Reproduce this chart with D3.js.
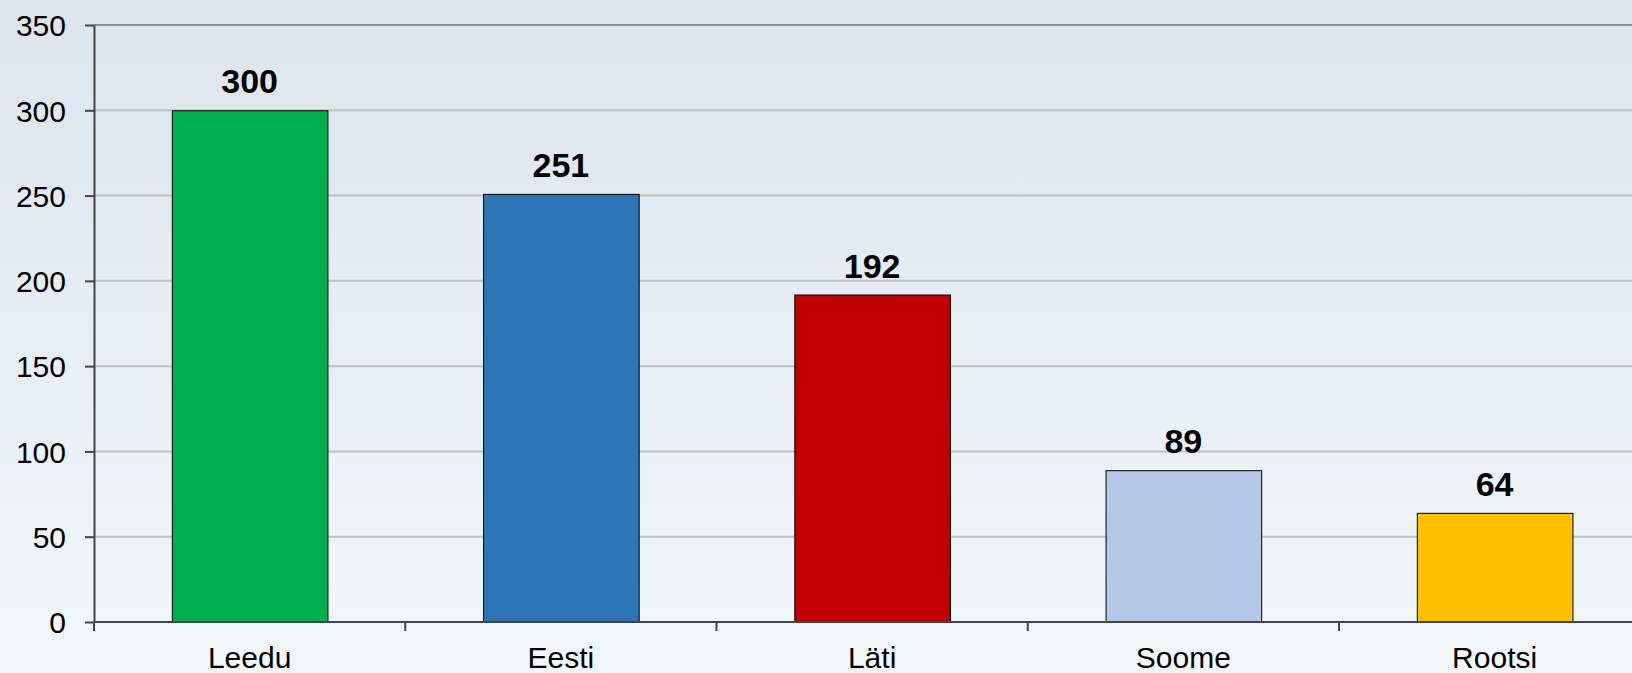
<!DOCTYPE html>
<html><head><meta charset="utf-8">
<script src="https://cdn.jsdelivr.net/npm/d3@7"></script>
<style>html,body{margin:0;padding:0;overflow:hidden;}svg{display:block;}</style>
</head><body>
<svg id="c" width="1632" height="673"></svg>
<script>
const categories = ["Leedu", "Eesti", "Läti", "Soome", "Rootsi"];
const values = [300, 251, 192, 89, 64];
const colors = ["#00b050", "#2e75b6", "#c00000", "#b4c7e7", "#ffc000"];
const yTicks = [0, 50, 100, 150, 200, 250, 300, 350];

const W = 1632, H = 673;
const svg = d3.select("#c");
const defs = svg.append("defs");
const g = defs.append("linearGradient").attr("id", "bg").attr("x1", 0).attr("y1", 0).attr("x2", 0).attr("y2", 1);
g.append("stop").attr("offset", "0%").attr("stop-color", "#dce5ed");
g.append("stop").attr("offset", "100%").attr("stop-color", "#f2f7fa");
svg.append("rect").attr("width", W).attr("height", H).attr("fill", "url(#bg)");

const x0 = 94, bandW = 311.25;
const x = d3.scaleBand().domain(categories).range([x0, x0 + bandW * categories.length]).paddingInner(0.5).paddingOuter(0.25);
const y = d3.scaleLinear().domain([0, 350]).range([622, 25]);
const font = "Arial, 'Liberation Sans', sans-serif";

// gridlines
svg.append("g").selectAll("line").data(yTicks.filter(d => d > 0)).join("line")
  .attr("x1", x0).attr("x2", W).attr("y1", d => y(d)).attr("y2", d => y(d))
  .attr("stroke", d => d === 350 ? "#8c8c8c" : "#c0c0c0").attr("stroke-width", 2);

// bars
svg.append("g").selectAll("rect").data(values).join("rect")
  .attr("x", (d, i) => x(categories[i]) + 0.5)
  .attr("y", d => y(d) + 0.5)
  .attr("width", x.bandwidth())
  .attr("height", d => y(0) - y(d))
  .attr("fill", (d, i) => colors[i])
  .attr("stroke", "#000").attr("stroke-width", 1);

// value labels
svg.append("g").selectAll("text").data(values).join("text")
  .attr("x", (d, i) => x(categories[i]) + x.bandwidth() / 2)
  .attr("y", d => y(d) - 17)
  .attr("text-anchor", "middle")
  .attr("font-family", font).attr("font-weight", "bold").attr("font-size", 34)
  .attr("fill", "#000").text(d => d);

// y axis
const yAxis = svg.append("g").attr("transform", `translate(${x0},0)`)
  .call(d3.axisLeft(y).tickValues(yTicks).tickSize(9).tickPadding(19).tickSizeOuter(0));
yAxis.select(".domain").attr("stroke", "#444").attr("stroke-width", 2);
yAxis.selectAll(".tick line").attr("stroke", "#444").attr("stroke-width", 2);
yAxis.selectAll("text").attr("font-family", font).attr("font-size", 30).attr("fill", "#000").attr("dy", "0.36em");

// x axis
const xAxis = svg.append("g").attr("transform", `translate(0,${y(0)})`)
  .call(d3.axisBottom(x).tickSize(0).tickPadding(0).tickSizeOuter(0));
xAxis.select(".domain").attr("d", `M${x0},0H${W}`).attr("stroke", "#444").attr("stroke-width", 2);
xAxis.selectAll("text").attr("font-family", font).attr("font-size", 30).attr("fill", "#000").attr("y", 46).attr("dy", null);
// boundary ticks between categories
const bounds = d3.range(0, categories.length + 1).map(i => x0 + i * bandW);
xAxis.append("g").selectAll("line").data(bounds).join("line")
  .attr("x1", d => d).attr("x2", d => d).attr("y1", 0).attr("y2", 9)
  .attr("stroke", "#444").attr("stroke-width", 2);
</script>
</body></html>
